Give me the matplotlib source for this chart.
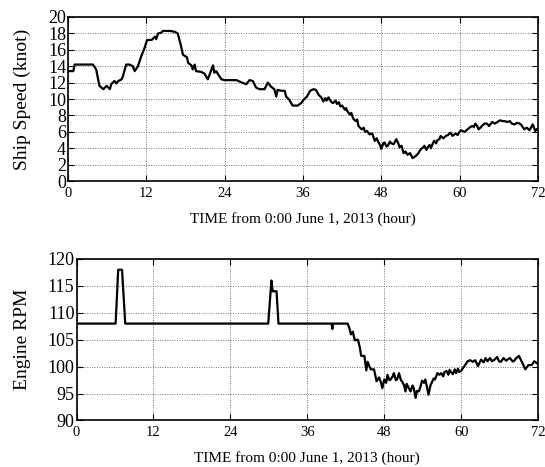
import matplotlib
matplotlib.use("Agg")
import matplotlib.pyplot as plt

plt.rcParams["font.family"] = ["Liberation Serif", "DejaVu Serif"]
plt.rcParams["font.size"] = 10

# Ship speed (knot)
speed_t = [0, 0.8, 1.0, 3.8, 4.3, 4.6, 4.8, 5.4, 5.9, 6.4, 6.6, 7.1, 7.4, 7.7, 8.2, 8.4,
           8.9, 9.4, 9.9, 10.2, 10.7, 11.2, 11.7, 12.1, 12.8, 13.3, 13.5, 13.8, 14.3, 14.5,
           15.6, 16.3, 16.8, 17.2, 17.6, 18.2, 18.4, 18.9, 19.1, 19.4, 19.6, 20.4, 20.9,
           21.4, 21.7, 22.2, 22.4, 22.7, 23.0, 23.5, 24.0, 25.8, 26.5, 27.3, 27.8, 28.3,
           28.8, 29.3, 30.1, 30.6, 31.1, 31.6, 31.9, 32.1, 32.7, 33.2, 33.4, 33.9, 34.4,
           35.2, 35.7, 36.2, 36.6, 37.1, 37.6, 38.0, 38.4, 38.8, 39.1, 39.4, 39.6, 39.9,
           40.1, 40.4, 40.6, 41.0, 41.2, 41.5, 41.7, 42.0, 42.4, 42.6, 42.8, 43.2, 43.4,
           43.7, 44.1, 44.3, 44.5, 45.0, 45.3, 45.5, 45.8, 46.2, 46.6, 47.0, 47.3, 47.5,
           47.8, 48.0, 48.3, 48.5, 48.8, 49.0, 49.3, 49.5, 49.9, 50.3, 50.6, 50.8, 51.1,
           51.4, 51.7, 52.0, 52.4, 52.8, 53.2, 53.6, 53.9, 54.1, 54.4, 54.6, 54.9, 55.1,
           55.4, 55.6, 55.9, 56.1, 56.4, 56.6, 56.9, 57.1, 57.5, 57.9, 58.2, 58.6, 58.9,
           59.4, 59.7, 59.9, 60.2, 60.4, 60.8, 61.2, 61.5, 61.9, 62.2, 62.4, 62.7, 62.9,
           63.2, 63.4, 63.8, 64.2, 64.5, 64.7, 65.0, 65.4, 65.8, 66.2, 66.6, 66.9, 67.3,
           67.7, 68.0, 68.4, 68.8, 69.2, 69.5, 69.9, 70.3, 70.7, 71.0, 71.2, 71.6, 71.8, 72.0]
speed = [13.4, 13.4, 14.2, 14.2, 13.6, 12.4, 11.6, 11.2, 11.6, 11.2, 11.8, 12.2, 11.9, 12.2,
         12.4, 12.8, 14.2, 14.2, 14.0, 13.4, 14.0, 15.2, 16.2, 17.2, 17.2, 17.6, 17.3, 18.0,
         18.1, 18.3, 18.3, 18.2, 18.0, 16.8, 15.4, 15.1, 14.4, 14.1, 13.6, 14.2, 13.4, 13.3,
         13.1, 12.4, 13.0, 14.1, 13.2, 13.4, 13.0, 12.4, 12.3, 12.3, 12.05, 11.8, 12.3,
         12.2, 11.4, 11.2, 11.2, 12.0, 11.5, 11.2, 10.3, 11.1, 11.0, 11.0, 10.3, 9.9, 9.2,
         9.2, 9.5, 10.0, 10.3, 11.0, 11.2, 11.1, 10.5, 10.2, 9.7, 10.1, 9.8, 10.2, 9.9,
         9.6, 9.5, 9.8, 9.4, 9.6, 9.1, 9.2, 8.7, 8.9, 8.5, 8.1, 8.3, 7.6, 7.3, 7.5, 6.7,
         6.3, 6.5, 6.0, 6.1, 5.7, 5.8, 4.9, 5.2, 4.8, 4.4, 3.9, 4.6, 4.7, 4.2, 4.3, 4.8,
         4.6, 4.5, 5.1, 4.6, 4.1, 4.3, 3.4, 3.6, 3.2, 3.4, 2.8, 3.0, 3.3, 3.7, 3.9, 4.1,
         4.3, 3.8, 4.1, 4.4, 4.0, 4.6, 4.9, 4.6, 5.0, 5.1, 5.5, 5.2, 5.5, 5.6, 5.9, 5.5,
         5.8, 5.6, 5.9, 6.2, 6.1, 6.0, 6.3, 6.5, 6.7, 6.6, 7.0, 6.7, 6.3, 6.5, 6.7, 7.0,
         7.0, 6.7, 6.9, 7.2, 7.0, 7.2, 7.4, 7.3, 7.3, 7.2, 7.3, 7.0, 6.9, 7.1, 7.0, 6.8,
         6.3, 6.5, 6.2, 6.6, 6.9, 6.1, 6.3, 6.4]

# Engine RPM
rpm_t = [0, 6.1, 6.5, 7.1, 7.6, 29.9, 30.4, 30.6, 30.8, 31.2, 31.5, 39.8, 39.9, 40.0,
         42.3, 42.6, 42.8, 43.1, 43.4, 43.9, 44.2, 44.4, 44.9, 45.2, 45.4, 45.7, 45.9,
         46.4, 46.8, 47.2, 47.5, 47.7, 48.0, 48.3, 48.5, 48.8, 49.0, 49.3, 49.5, 49.8,
         50.0, 50.3, 50.6, 50.8, 51.1, 51.3, 51.5, 51.7, 52.1, 52.4, 52.6, 52.9, 53.1,
         53.4, 53.7, 53.9, 54.2, 54.4, 54.7, 54.9, 55.2, 55.4, 55.7, 55.9, 56.3, 56.6,
         56.9, 57.2, 57.4, 57.7, 58.0, 58.2, 58.4, 58.7, 59.0, 59.2, 59.5, 59.7, 60.0,
         60.3, 60.5, 61.0, 61.4, 61.8, 62.2, 62.6, 63.1, 63.5, 63.8, 64.1, 64.5, 64.8,
         65.2, 65.6, 65.9, 66.2, 66.6, 67.0, 67.2, 67.6, 68.0, 68.2, 68.6, 69.0, 69.5,
         70.0, 70.5, 71.0, 71.4, 72.0]
rpm = [108, 108, 118, 118, 108, 108, 116, 114, 114, 114, 108, 108, 107, 108,
       108, 107, 106, 106.5, 104.9, 105, 103.5, 102, 102, 99.3, 100.9, 100, 99.5,
       99.5, 97.3, 98, 97, 96, 97.6, 97, 98.5, 97.5, 97.6, 98.2, 98.8, 97.5,
       97.6, 98.8, 97.5, 97.2, 96.5, 95.4, 96.8, 96.3, 95.4, 96.5, 96, 94.2, 95.5,
       95.4, 96.5, 97.4, 97, 97.6, 96, 94.8, 96.5, 97, 97.8, 97.6, 98.8, 98.5,
       98.8, 98.2, 99.0, 99.2, 98.5, 99.4, 99.0, 98.6, 99.5, 98.8, 99.6, 99.0, 99.2,
       99.8, 100.1, 101, 101.2, 100.9, 101.2, 100.1, 101.3, 100.8, 101.6, 101.0, 101.6,
       101.0, 101.3, 101.8, 101.0, 100.9, 101.6, 101.1, 101.3, 101.6, 101.0, 101.0,
       101.6, 102.0, 100.8, 99.5, 100.3, 100.3, 101.0, 100.5]

x_ticks = [0, 12, 24, 36, 48, 60, 72]
xlabel = "TIME from 0:00 June 1, 2013 (hour)"

fig = plt.figure(figsize=(5.45, 4.67), dpi=100)
ax1 = fig.add_axes([0.125, 0.6124, 0.862, 0.3512])
ax2 = fig.add_axes([0.1404, 0.0996, 0.847, 0.3458])


def style_axis(ax):
    ax.set_xlim(0, 72)
    ax.set_xticks(x_ticks)
    ax.grid(True, color="0.45", linestyle=(0, (1, 1.5)), linewidth=0.7)
    ax.tick_params(direction="in", top=True, right=True, length=4, width=0.8)
    ax.tick_params(axis="x", labelsize=10.5, pad=4)
    ax.tick_params(axis="y", labelsize=13, pad=1.5)
    for s in ax.spines.values():
        s.set_linewidth(1.2)
    ax.set_xlabel(xlabel, fontsize=11, labelpad=9)


ax1.plot(speed_t, speed, color="black", linewidth=1.6)
style_axis(ax1)
ax1.set_ylim(0, 20)
ax1.set_yticks(range(0, 21, 2))
ax1.set_ylabel("Ship Speed (knot)", fontsize=14, labelpad=12)

ax2.plot(rpm_t, rpm, color="black", linewidth=1.6)
style_axis(ax2)
ax2.set_ylim(90, 120)
ax2.set_yticks(range(90, 121, 5))
ax2.set_ylabel("Engine RPM", fontsize=14, labelpad=12)

fig.savefig("out.png", dpi=100)
